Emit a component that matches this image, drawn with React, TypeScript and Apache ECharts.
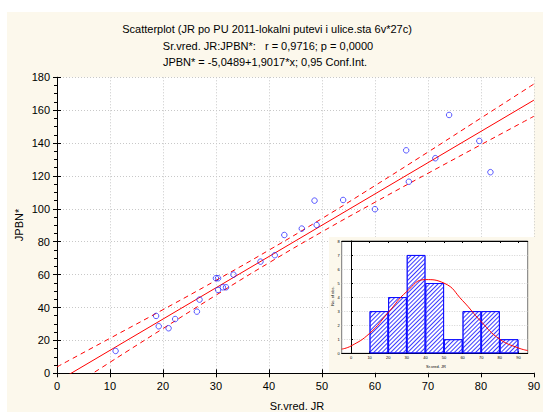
import React, { useEffect, useRef } from 'react';
import * as echarts from 'echarts';

// ---- data ----
const jrValues = [11.06, 18.7, 19.2, 21.06, 22.3, 26.4, 26.9, 30.0, 30.4, 30.4, 31.3, 31.9, 33.3, 38.4, 41.1, 42.9, 46.2, 48.6, 49.0, 54.0, 60.0, 65.9, 66.4, 71.4, 74.0, 79.7, 81.8];
const jpbnValues = [13.6, 34.9, 28.6, 27.4, 33.0, 37.5, 44.8, 57.8, 57.8, 50.7, 52.3, 52.3, 60.0, 67.9, 71.8, 84.1, 88.0, 105.0, 90.2, 105.4, 99.8, 135.6, 116.5, 130.8, 157.1, 141.3, 122.3];

const fitX = [0, 90];
const fitY = [-5.05, 166.1];

const bandX = [0, 10, 20, 30, 40, 50, 60, 70, 80, 90];
const bandUpper = [3.9, 21.3, 38.7, 56.5, 74.9, 94.1, 114.1, 134.5, 155.2, 175.9];
const bandLower = [-14.0, 6.7, 27.2, 47.5, 67.2, 86.0, 104.0, 121.6, 139.0, 156.3];

const xTicks = [0, 10, 20, 30, 40, 50, 60, 70, 80, 90];
const yTicks = [0, 20, 40, 60, 80, 100, 120, 140, 160, 180];

const histBinCenters = [15, 25, 35, 45, 55, 65, 75, 85];
const histCounts = [3, 4, 7, 5, 1, 3, 3, 1];
const histXTicks = [0, 10, 20, 30, 40, 50, 60, 70, 80, 90];

const normX = [-5, 0, 10, 20, 30, 40, 50, 60, 70, 80, 90, 95];
const normY = [0.3, 0.52, 1.42, 2.9, 4.4, 5.25, 5.0, 3.75, 2.25, 1.0, 0.38, 0.2];

const titleLines = [
  'Scatterplot (JR po PU 2011-lokalni putevi i ulice.sta 6v*27c)',
  'Sr.vred. JR:JPBN*:   r = 0,9716; p = 0,0000',
  'JPBN* = -5,0489+1,9017*x; 0,95 Conf.Int.',
];

const FONT = '"Liberation Sans", Arial, sans-serif';
const CREAM = '#fcf8ec';
const RED = '#ff0000';

function txt(x: number, y: number, text: string, size: number, extra: any = {}) {
  return {
    type: 'text',
    x,
    y,
    z: extra.z ?? 100,
    rotation: extra.rotation ?? 0,
    silent: true,
    style: {
      text,
      fill: '#000',
      fontSize: size,
      fontFamily: FONT,
      textAlign: 'center',
      align: 'center',
      textVerticalAlign: 'middle',
      verticalAlign: 'middle',
    },
  };
}

export default function App() {
  const ref = useRef<HTMLDivElement>(null);
  useEffect(() => {
    if (!ref.current) return;
    const chart = echarts.init(ref.current, null, { renderer: 'svg' });

    const dotted = { show: true, lineStyle: { color: '#c8c8c8', type: [1, 2], width: 1 } };
    const axisBlack = { show: true, lineStyle: { color: '#000', width: 1 } };

    const option: any = {
      animation: false,
      backgroundColor: CREAM,
      textStyle: { fontFamily: FONT },
      graphic: [
        { type: 'rect', shape: { x: 0, y: 0, width: 543, height: 12 }, style: { fill: '#fff' }, z: -1, silent: true },
        { type: 'rect', shape: { x: 0, y: 0, width: 7, height: 412 }, style: { fill: '#fff' }, z: -1, silent: true },
        txt(267, 29, titleLines[0], 11),
        txt(268, 45.5, titleLines[1], 11),
        txt(265, 62, titleLines[2], 11),
        txt(19, 225, 'JPBN*', 11, { rotation: Math.PI / 2 }),
        txt(297, 406, 'Sr.vred. JR', 11),
        // inset frame
        { type: 'rect', shape: { x: 329, y: 237, width: 207, height: 135.8 }, style: { fill: CREAM }, z: 50, silent: true },
        { type: 'rect', shape: { x: 341.7, y: 241, width: 186, height: 112.3 }, style: { fill: '#fff', stroke: '#777', lineWidth: 1 }, z: 51, silent: true },
        txt(332, 296, 'No. of obs.', 4, { rotation: Math.PI / 2, z: 70 }),
        txt(436, 366, 'Sr.vred. JR', 4, { z: 70 }),
      ],
      grid: [
        { left: 57, top: 77.3, right: 6.5, bottom: 38.7, show: true, backgroundColor: '#fff', borderWidth: 0 },
        { left: 341.7, top: 241, width: 186, height: 112.3, z: 60 },
      ],
      xAxis: [
        {
          type: 'value', gridIndex: 0, min: 0, max: 90, interval: 10,
          axisLine: axisBlack,
          axisTick: { show: true, inside: true, length: 4, lineStyle: { color: '#000' } },
          axisLabel: { fontSize: 11, color: '#000', margin: 7, fontFamily: FONT, customValues: xTicks },
          splitLine: dotted,
        },
        {
          type: 'value', gridIndex: 0, min: 0, max: 90, interval: 10, position: 'top',
          axisLine: axisBlack,
          axisTick: { show: true, inside: true, length: 4, lineStyle: { color: '#000' } },
          axisLabel: { show: false },
          splitLine: { show: false },
        },
        {
          type: 'value', gridIndex: 1, min: -5, max: 95, z: 60,
          axisLine: { show: true, onZero: false, lineStyle: { color: '#000', width: 1 } },
          axisTick: { show: true, inside: true, length: 2, customValues: histXTicks, lineStyle: { color: '#000' } },
          axisLabel: { fontSize: 4, color: '#000', margin: 2, customValues: histXTicks },
          splitLine: { show: false },
        },
        {
          type: 'value', gridIndex: 1, min: -5, max: 95, position: 'top', z: 60,
          axisLine: { show: true, onZero: false, lineStyle: { color: '#000', width: 1 } },
          axisTick: { show: true, inside: true, length: 2, customValues: histXTicks, lineStyle: { color: '#000' } },
          axisLabel: { show: false },
          splitLine: { show: false },
        },
      ],
      yAxis: [
        {
          type: 'value', gridIndex: 0, min: 0, max: 180, interval: 20,
          axisLine: axisBlack,
          axisTick: { show: true, inside: true, length: 4, lineStyle: { color: '#000' } },
          axisLabel: { fontSize: 11, color: '#000', margin: 7, fontFamily: FONT, customValues: yTicks },
          splitLine: dotted,
        },
        {
          type: 'value', gridIndex: 0, min: 0, max: 180, interval: 20, position: 'right',
          axisLine: axisBlack,
          axisTick: { show: true, inside: true, length: 4, lineStyle: { color: '#000' } },
          minorTick: { show: true, splitNumber: 4, length: 3, lineStyle: { color: '#000' } },
          axisLabel: { show: false },
          splitLine: { show: false },
        },
        {
          type: 'value', gridIndex: 1, min: 0, max: 8, interval: 1, z: 60,
          axisLine: { show: true, lineStyle: { color: '#000', width: 1 } },
          axisTick: { show: true, inside: true, length: 2, lineStyle: { color: '#000' } },
          axisLabel: { fontSize: 4, color: '#000', margin: 2 },
          splitLine: { show: true, lineStyle: { color: '#c8c8c8', type: [1, 1.5], width: 0.8 } },
        },
      ],
      series: [
        {
          type: 'line', xAxisIndex: 0, yAxisIndex: 0, symbol: 'none', z: 3,
          data: fitX.map((x, i) => [x, fitY[i]]),
          lineStyle: { color: RED, width: 1 },
        },
        {
          type: 'line', xAxisIndex: 0, yAxisIndex: 0, symbol: 'none', smooth: true, z: 3,
          data: bandX.map((x, i) => [x, bandUpper[i]]),
          lineStyle: { color: RED, width: 1, type: [5, 4] },
        },
        {
          type: 'line', xAxisIndex: 0, yAxisIndex: 0, symbol: 'none', smooth: true, z: 3,
          data: bandX.map((x, i) => [x, bandLower[i]]),
          lineStyle: { color: RED, width: 1, type: [5, 4] },
        },
        {
          type: 'scatter', xAxisIndex: 0, yAxisIndex: 0, z: 4,
          symbol: 'circle', symbolSize: 5.5,
          data: jrValues.map((x, i) => [x, jpbnValues[i]]),
          itemStyle: { color: 'rgba(0,0,0,0)', borderColor: '#1a1aff', borderWidth: 0.9 },
        },
        {
          type: 'bar', xAxisIndex: 2, yAxisIndex: 2, z: 61,
          barWidth: 18.6,
          data: histBinCenters.map((x, i) => [x, histCounts[i]]),
          itemStyle: {
            color: '#ffffff', borderColor: '#0000ff', borderWidth: 0.8,
            decal: { symbol: 'rect', symbolSize: 1, dashArrayX: [1, 0], dashArrayY: [1, 2], rotation: -Math.PI / 4, color: '#3a3aff' },
          },
        },
        {
          type: 'line', xAxisIndex: 2, yAxisIndex: 2, symbol: 'none', smooth: true, z: 62,
          data: normX.map((x, i) => [x, normY[i]]),
          lineStyle: { color: RED, width: 1 },
        },
      ],
    };
    chart.setOption(option);
    return () => chart.dispose();
  }, []);
  return <div ref={ref} style={{ position: 'fixed', left: 0, top: 0, width: 543, height: 412 }} />;
}
